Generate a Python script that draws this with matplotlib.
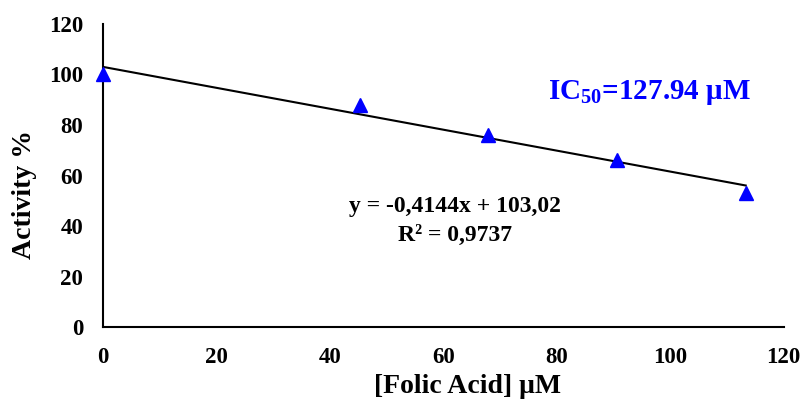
import numpy as np
import matplotlib
matplotlib.use("Agg")
import matplotlib.pyplot as plt

# data
conc = [0, 45.3, 67.9, 90.6, 113.3]
activity = [100, 88, 76, 66, 53]
slope = -0.4144
intercept = 103.02
eq_text = "y = -0,4144x + 103,02\nR² = 0,9737"
ic50_text = "IC$_{\\mathregular{50}}$=127.94 μM"

plt.rcParams['font.family'] = ['Liberation Serif', 'DejaVu Serif']
plt.rcParams['font.weight'] = 'bold'

fig = plt.figure(figsize=(8.03, 3.99), dpi=100)
ax = fig.add_axes([0.128, 0.18, 0.848, 0.76])

x_fit = np.array([min(conc), max(conc)])
ax.plot(x_fit, slope * x_fit + intercept, color='black', lw=1.5, zorder=2)
ax.plot(conc, activity, linestyle='none', marker='^', ms=10.5,
        color='#0000ff', clip_on=False, zorder=3)

ax.set_xlim(0, 120)
ax.set_ylim(0, 120)
ax.set_xticks(range(0, 121, 20))
ax.set_yticks(range(0, 121, 20))
ax.tick_params(length=0, labelsize=16.5, pad=14)
for lab in ax.get_xticklabels() + ax.get_yticklabels():
    lab.set_fontweight('bold')

for side in ['top', 'right']:
    ax.spines[side].set_visible(False)
for side in ['left', 'bottom']:
    ax.spines[side].set_linewidth(1.5)

ax.set_xlabel("[Folic Acid] μM", fontsize=20, fontweight='bold')
ax.set_ylabel("Activity %", fontsize=20, fontweight='bold')
ax.xaxis.set_label_coords(0.535, -0.155)
ax.yaxis.set_label_coords(-0.097, 0.436)

ax.text(62, 42, eq_text, ha='center', va='center', fontsize=17,
        fontweight='bold', linespacing=1.45)
ax.text(78.5, 93, ic50_text, ha='left', va='center', fontsize=21,
        fontweight='bold', color='#0000ff')

fig.savefig("out.png", dpi=100)
